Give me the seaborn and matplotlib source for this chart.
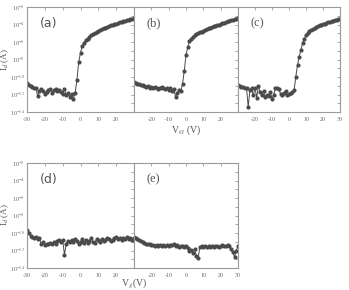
import numpy as np
import pandas as pd
import matplotlib
matplotlib.use('Agg')
import matplotlib.pyplot as plt
import seaborn as sns

# gate voltage (V), 1 V steps
vg = list(range(-30, 31))

# log10 of drain current
log_a = [-10.7, -10.9, -11.0, -11.1, -11.2, -11.3, -12.2, -11.6, -11.4, -11.6,
         -11.9, -11.7, -11.5, -11.4, -11.8, -11.5, -11.4, -11.6, -11.5, -11.7,
         -11.9, -11.4, -12.1, -11.8, -12.3, -11.9, -12.5, -11.8, -10.3, -8.3,
         -7.2, -6.5, -6.1, -5.8, -5.6, -5.4, -5.25, -5.1, -4.95, -4.85,
         -4.75, -4.65, -4.55, -4.45, -4.35, -4.3, -4.2, -4.1, -4.05, -3.95,
         -3.9, -3.85, -3.75, -3.7, -3.65, -3.6, -3.5, -3.45, -3.4, -3.35, -3.3]
log_b = [-10.6, -10.7, -10.8, -10.8, -10.9, -10.9, -11.0, -11.1, -11.0, -11.2,
         -11.1, -11.3, -11.1, -11.2, -11.4, -11.2, -11.1, -11.3, -11.4, -11.3,
         -11.5, -11.3, -11.6, -11.4, -12.3, -11.8, -11.5, -11.6, -10.8, -9.3,
         -7.5, -6.6, -5.9, -5.6, -5.4, -5.25, -5.1, -5.0, -4.9, -4.8,
         -4.7, -4.6, -4.5, -4.45, -4.35, -4.3, -4.2, -4.15, -4.05, -4.0,
         -3.9, -3.85, -3.8, -3.7, -3.65, -3.6, -3.5, -3.45, -3.4, -3.35, -3.3]
log_c = [-10.9, -11.0, -11.1, -11.1, -11.2, -11.2, -13.4, -11.5, -11.3, -12.1,
         -11.2, -12.4, -11.0, -11.7, -12.0, -11.6, -12.3, -12.0, -12.2, -11.7,
         -12.5, -12.0, -11.3, -11.3, -11.4, -11.9, -12.0, -11.8, -11.6, -12.0,
         -11.9, -11.8, -11.7, -11.5, -10.0, -8.6, -7.7, -6.9, -6.1, -5.6,
         -5.2, -4.95, -4.75, -4.6, -4.5, -4.4, -4.3, -4.2, -4.1, -4.0,
         -3.95, -3.9, -3.8, -3.75, -3.7, -3.6, -3.55, -3.5, -3.45, -3.4, -3.35]
log_d = [-9.7, -10.0, -10.3, -10.5, -10.6, -10.5, -10.7, -10.6, -11.3, -11.0,
         -11.4, -11.2, -11.3, -11.1, -11.2, -11.0, -11.2, -10.9, -10.8, -11.0,
         -10.8, -12.5, -11.2, -10.9, -11.0, -10.8, -11.0, -10.7, -10.9, -11.3,
         -11.0, -10.7, -11.1, -10.8, -11.1, -10.9, -10.6, -11.0, -11.1, -10.7,
         -10.8, -11.0, -10.7, -10.9, -10.8, -10.6, -10.7, -10.9, -10.8, -10.6,
         -10.5, -10.7, -10.6, -10.8, -10.6, -10.7, -10.5, -10.7, -10.6, -10.8, -10.6]
log_e = [-10.5, -10.6, -10.7, -10.8, -10.9, -11.0, -11.1, -11.2, -11.3, -11.3,
         -11.4, -11.4, -11.5, -11.4, -11.5, -11.4, -11.5, -11.4, -11.5, -11.4,
         -11.5, -11.4, -11.4, -11.3, -11.5, -11.4, -11.6, -11.5, -11.5, -11.6,
         -11.5, -11.7, -12.1, -11.9, -12.3, -11.8, -12.6, -12.9, -11.6, -11.5,
         -11.6, -11.5, -11.6, -11.5, -11.6, -11.5, -11.6, -11.5, -11.5, -11.6,
         -11.5, -11.4, -11.5, -11.5, -11.4, -11.5, -11.8, -12.2, -12.7, -12.0, -11.5]

panel_names = ['(a)', '(b)', '(c)', '(d)', '(e)']
xtick_sets = [[-30, -20, -10, 0, 10, 20], [-20, -10, 0, 10, 20], [-20, -10, 0, 10, 20, 30],
              [-30, -20, -10, 0, 10, 20], [-20, -10, 0, 10, 20, 30]]
ytick_exps = [-2, -4, -6, -8, -10, -12, -14]

sns.set_style('white')
plt.rcParams['font.family'] = ['Liberation Serif', 'DejaVu Serif']
plt.rcParams['mathtext.fontset'] = 'stix'

fig = plt.figure(figsize=(3.49, 2.90), dpi=100)
W, H = 349, 290

def box(x0, x1, y0, y1):
    return [x0 / W, 1 - y1 / H, (x1 - x0) / W, (y1 - y0) / H]

boxes = [box(27, 134, 7, 112), box(134, 238, 7, 112), box(238, 340, 7, 112),
         box(27, 134, 163, 268), box(134, 238, 163, 268)]
series = [log_a, log_b, log_c, log_d, log_e]

gray = '#9a9a9a'
dark = '#4a4a4a'
for i, (b, logs) in enumerate(zip(boxes, series)):
    ax = fig.add_axes(b)
    df = pd.DataFrame({'vg': vg, 'id': 10.0 ** np.array(logs)})
    sns.lineplot(data=df, x='vg', y='id', ax=ax, color=dark, marker='o',
                 markersize=3.0, markeredgewidth=0, linewidth=0.7)
    ax.set_yscale('log')
    ax.set_ylim(1e-14, 1e-2)
    ax.set_xlim(-30, 30)
    ax.set_xticks(xtick_sets[i])
    ax.set_xticklabels([str(t) for t in xtick_sets[i]])
    ax.set_yticks([10.0 ** e for e in range(-14, -1)], minor=False)
    ax.yaxis.set_minor_locator(matplotlib.ticker.NullLocator())
    if i in (0, 3):
        ax.set_yticklabels(['10$^{%d}$' % e if e in ytick_exps else ''
                            for e in range(-14, -1)])
    else:
        ax.set_yticklabels([])
    ax.tick_params(axis='both', direction='in', length=2.5, width=0.6,
                   colors=gray, labelcolor='#666666', labelsize=4.3,
                   top=True, right=True)
    ax.tick_params(axis='y', pad=1.5)
    ax.tick_params(axis='x', pad=3.5)
    for s in ax.spines.values():
        s.set_color(gray)
        s.set_linewidth(0.8)
    ax.set_xlabel('')
    ax.set_ylabel('')
    fam = ['DejaVu Sans'] if i in (0, 3) else ['Liberation Serif']
    ax.text(0.12, 0.9, panel_names[i], transform=ax.transAxes, fontsize=9,
            color='#555555', va='top', family=fam)

fig.text(5 / W, 1 - 60 / H, 'I$_d$ (A)', rotation=90, ha='center', va='center',
         fontsize=6.5, color='#555555')
fig.text(5 / W, 1 - 215 / H, 'I$_d$ (A)', rotation=90, ha='center', va='center',
         fontsize=6.5, color='#555555')
fig.text(186 / W, 1 - 130 / H, 'V$_G$ (V)', ha='center', va='center',
         fontsize=7, color='#555555')
fig.text(134 / W, 1 - 283 / H, 'V$_g$(V)', ha='center', va='center',
         fontsize=7, color='#555555')

fig.savefig('out.png', dpi=100)
